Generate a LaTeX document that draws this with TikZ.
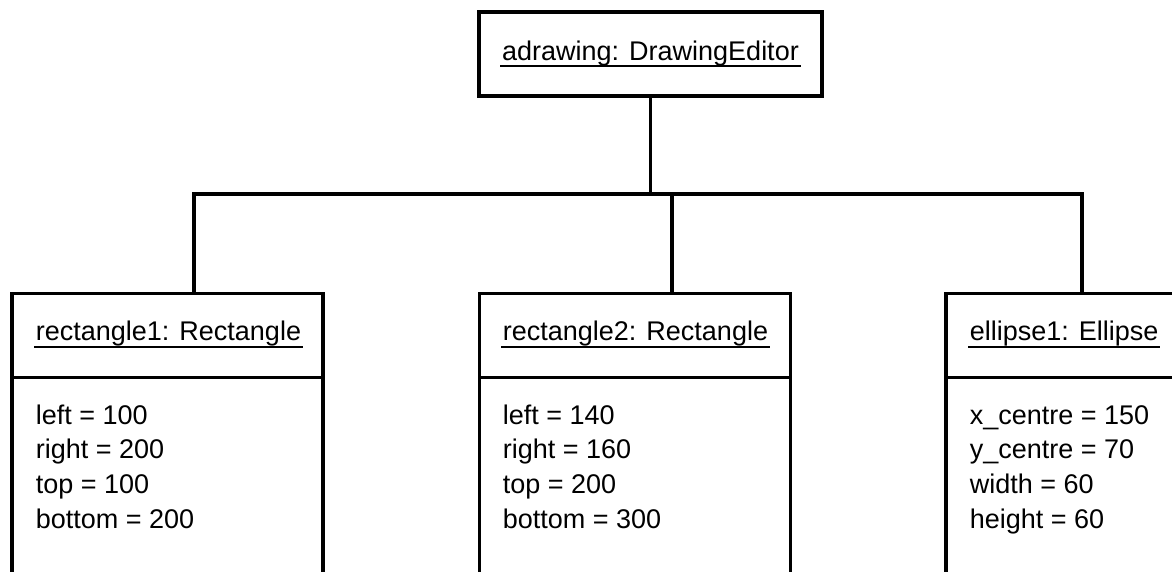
\documentclass[tikz,border=0pt]{standalone}
\usepackage{fontspec}
\setmainfont{Liberation Sans}
\begin{document}
\begin{tikzpicture}[x=1pt,y=-1pt,line width=3.8pt,
  objbox/.style={draw, line width=3.8pt, minimum width=311pt, minimum height=84pt, anchor=north west, outer sep=0pt, inner sep=0pt},
  lbl/.style={font=\fontsize{27}{33}\selectfont, inner sep=0pt, anchor=base west},
  ul/.style={line width=2pt}]
\useasboundingbox (0,0) rectangle (1172,571);
\clip (0,0) rectangle (1172,571);
% top object
\node[draw, minimum width=343pt, minimum height=84pt, anchor=north west, outer sep=0pt] (top) at (479,12) {};
\node[lbl, anchor=base] (toptitle) at (650.5,60) {adrawing: DrawingEditor};
\draw[ul] ([yshift=-6pt]toptitle.base west) -- ([yshift=-6pt]toptitle.base east);
% lower objects (header compartments)
\node[objbox] (r1) at (12,293.5) {};
\node[objbox] (r2) at (479.5,293.5) {};
\node[objbox, minimum width=237pt] (e1) at (946,293.5) {};
% attribute compartments (continue past the lower edge)
\draw (r1.south west) -- ++(0,260);
\draw (r1.south east) -- ++(0,260);
\draw (r2.south west) -- ++(0,260);
\draw (r2.south east) -- ++(0,260);
\draw (e1.south west) -- ++(0,260);
% titles
\node[lbl] (t1) at (34,340) {rectangle1: Rectangle};
\draw[ul] ([yshift=-6.5pt]t1.base west) -- ([yshift=-6.5pt]t1.base east);
\node[lbl] (t2) at (501,340) {rectangle2: Rectangle};
\draw[ul] ([yshift=-6.5pt]t2.base west) -- ([yshift=-6.5pt]t2.base east);
\node[lbl] (t3) at (968,340) {ellipse1: Ellipse};
\draw[ul] ([yshift=-6.5pt]t3.base west) -- ([yshift=-6.5pt]t3.base east);
% attributes
\node[lbl] (r1a) at (34,424) {left = 100};
\node[lbl] (r1b) at (34,458.8) {right = 200};
\node[lbl] (r1c) at (34,493.6) {top = 100};
\node[lbl] (r1d) at (34,528.4) {bottom = 200};
\node[lbl] (r2a) at (501,424) {left = 140};
\node[lbl] (r2b) at (501,458.8) {right = 160};
\node[lbl] (r2c) at (501,493.6) {top = 200};
\node[lbl] (r2d) at (501,528.4) {bottom = 300};
\node[lbl] (e1a) at (968,424) {x\_centre = 150};
\node[lbl] (e1b) at (968,458.8) {y\_centre = 70};
\node[lbl] (e1c) at (968,493.6) {width = 60};
\node[lbl] (e1d) at (968,528.4) {height = 60};
% connectors
\coordinate (bus) at (650.5,194);
\draw (top.south) -- (bus);
\draw ([xshift=182pt]r1.north west) |- (bus);
\draw ([xshift=192.5pt]r2.north west) |- (bus);
\draw (bus) -| ([xshift=136pt]e1.north west);
\end{tikzpicture}
\end{document}
